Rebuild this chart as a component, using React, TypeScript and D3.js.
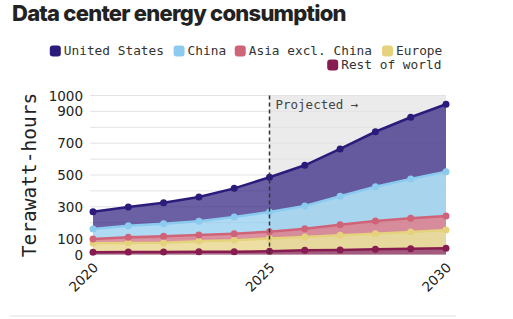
import React from "react";
import * as d3 from "d3";

const years = [2020, 2021, 2022, 2023, 2024, 2025, 2026, 2027, 2028, 2029, 2030];
const seriesNames = ["United States", "China", "Asia excl. China", "Europe", "Rest of world"];
const unitedStates = [109, 118, 132, 153, 180, 219, 256, 298, 346, 388, 424];
const china = [63, 73, 80, 86, 105, 124, 143, 179, 215, 247, 279];
const asiaExChina = [27, 36, 40, 40, 42, 43, 52, 66, 80, 86, 88];
const europe = [56, 57, 58, 66, 71, 80, 84, 93, 98, 106, 115];
const restOfWorld = [14, 15, 16, 17, 18, 20, 26, 28, 33, 36, 39];
const yTickLabels = [0, 100, 300, 500, 700, 900, 1000];
const xTickLabels = [2020, 2025, 2030];
const projectedStart = 2025;

const colors: Record<string, string> = {
  "United States": "#2b1c7c",
  China: "#8ccbef",
  "Asia excl. China": "#cf6479",
  Europe: "#e5d27d",
  "Rest of world": "#861c50",
};

const W = 513;
const H = 319;
const M = { left: 93, right: 446, top: 95.5, bottom: 254.5 };
const mono = "'DejaVu Sans Mono', 'Liberation Mono', monospace";
const sans = "'DejaVu Sans', sans-serif";

export default function App() {
  const x = d3.scaleLinear().domain([2020, 2030]).range([M.left, M.right]);
  const y = d3.scaleLinear().domain([0, 1000]).range([M.bottom, M.top]);

  const valuesByName: Record<string, number[]> = {
    "United States": unitedStates,
    China: china,
    "Asia excl. China": asiaExChina,
    Europe: europe,
    "Rest of world": restOfWorld,
  };
  const table = years.map((yr, i) => {
    const row: any = { year: yr };
    seriesNames.forEach((n) => (row[n] = valuesByName[n][i]));
    return row;
  });
  const stackOrder = [...seriesNames].reverse();
  const stacked = d3.stack<any>().keys(stackOrder)(table);

  const area = d3
    .area<any>()
    .x((d) => x(d.data.year))
    .y0((d) => y(d[0]))
    .y1((d) => y(d[1]));
  const line = d3
    .line<any>()
    .x((d) => x(d.data.year))
    .y((d) => y(d[1]));

  const gridVals = d3.range(0, 1001, 100);

  // legend layout
  const charW = 7.83;
  const sq = 11;
  const row1 = seriesNames.slice(0, 4);
  const row2 = seriesNames.slice(4);
  const legendRight = 443;
  const itemW = (n: string) => sq + 3 + n.length * charW;
  const layoutRow = (names: string[], yc: number) => {
    const total = names.reduce((s, n) => s + itemW(n), 0) + (names.length - 1) * 8;
    let cx = legendRight - total;
    return names.map((n) => {
      const item = { name: n, x: cx, y: yc };
      cx += itemW(n) + 8;
      return item;
    });
  };
  const legendItems = [...layoutRow(row1, 51), ...layoutRow(row2, 65)];

  return (
    <svg width={W} height={H} style={{ position: "absolute", left: 0, top: 0, background: "#fff" }}>
      <text x={12} y={21} fontFamily="Inter, sans-serif" fontWeight={800} fontSize={22} letterSpacing={-0.75} fill="#222">
        Data center energy consumption
      </text>

      {legendItems.map((it) => (
        <g key={it.name}>
          <rect x={it.x} y={it.y - sq / 2} width={sq} height={sq} rx={3} fill={colors[it.name]} />
          <text x={it.x + sq + 3} y={it.y + 4} fontFamily={mono} fontSize={12.8} fill="#333">
            {it.name}
          </text>
        </g>
      ))}

      <rect x={x(projectedStart)} y={M.top} width={M.right - x(projectedStart)} height={M.bottom - M.top} fill="#ebebeb" />

      {gridVals.map((v) => (
        <line key={v} x1={M.left - 3} x2={M.right} y1={y(v)} y2={y(v)} stroke="#e3e3e3" strokeWidth={1} />
      ))}

      {yTickLabels.map((v) => (
        <text key={v} x={83} y={y(v) + 5} textAnchor="end" fontFamily={sans} fontSize={13.5} fill="#222">
          {v}
        </text>
      ))}

      <text
        transform={`translate(36, ${(M.top + M.bottom) / 2}) rotate(-90)`}
        textAnchor="middle"
        fontFamily={mono}
        fontSize={19.5}
        fill="#222"
      >
        Terawatt-hours
      </text>

      {stacked.map((s) => (
        <path key={s.key} d={area(s) || ""} fill={colors[s.key]} fillOpacity={0.7} />
      ))}
      {stacked.map((s) => (
        <g key={s.key + "-l"}>
          <path d={line(s) || ""} fill="none" stroke={colors[s.key]} strokeWidth={2.5} />
          {s.map((d: any, i: number) => (
            <circle key={i} cx={x(d.data.year)} cy={y(d[1])} r={3.5} fill={colors[s.key]} />
          ))}
        </g>
      ))}

      <line
        x1={x(projectedStart)}
        x2={x(projectedStart)}
        y1={M.top}
        y2={M.bottom + 2}
        stroke="#333"
        strokeWidth={1.5}
        strokeDasharray="4,3"
      />
      <text x={x(projectedStart) + 6} y={109} fontFamily={mono} fontSize={12.5} fill="#444">
        Projected →
      </text>

      {xTickLabels.map((v) => (
        <text
          key={v}
          transform={`translate(${x(v) + 6}, ${M.bottom + 14}) rotate(-45)`}
          textAnchor="end"
          fontFamily={sans}
          fontSize={13.5}
          fill="#222"
        >
          {v}
        </text>
      ))}

      <line x1={10} x2={456} y1={316} y2={316} stroke="#e0e0e0" strokeWidth={1} />
    </svg>
  );
}
